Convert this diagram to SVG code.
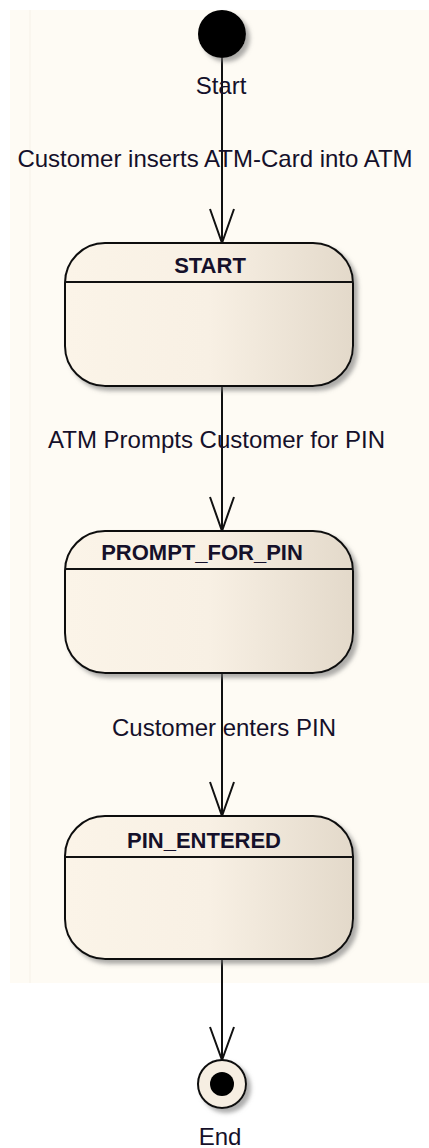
<svg xmlns="http://www.w3.org/2000/svg" width="429" height="1148" viewBox="0 0 429 1148">
<defs>
<style>
.lbl{font-family:"Liberation Sans",Arial,sans-serif;font-size:24px;fill:#15102a;text-anchor:middle}
.ttl{font-family:"Liberation Sans",Arial,sans-serif;font-size:22px;font-weight:bold;fill:#15102a;text-anchor:middle}
.st{fill:url(#g);stroke:#111;stroke-width:2}
.div{stroke:#111;stroke-width:2}
.edge{stroke:#111;stroke-width:2;fill:none}
</style>
<linearGradient id="g" x1="0" y1="0" x2="1" y2="0">
<stop offset="0" stop-color="#FBF4E8"/>
<stop offset="0.5" stop-color="#F8F0E4"/>
<stop offset="1" stop-color="#E3D9CA"/>
</linearGradient>
<filter id="sh" x="-10%" y="-10%" width="130%" height="130%">
<feDropShadow dx="4" dy="4" stdDeviation="2" flood-color="#777" flood-opacity="0.6"/>
</filter>
</defs>
<rect x="0" y="0" width="429" height="1148" fill="#fff"/>
<rect x="10" y="10" width="419" height="973" fill="#FEFBF4"/>
<line x1="30" y1="10" x2="30" y2="983" stroke="#F6F1E8" stroke-width="1"/>

<g id="connectors">
<line class="edge" x1="222" y1="58" x2="222" y2="243"/>
<polyline class="edge" points="210,209 222,243 234,209"/>
<line class="edge" x1="222" y1="386" x2="222" y2="531"/>
<polyline class="edge" points="210,497 222,531 234,497"/>
<line class="edge" x1="222" y1="673" x2="222" y2="816"/>
<polyline class="edge" points="210,782 222,816 234,782"/>
<line class="edge" x1="222" y1="959" x2="222" y2="1060"/>
<polyline class="edge" points="210,1027 222,1060 234,1027"/>
<text class="lbl" x="215" y="167">Customer inserts ATM-Card into ATM</text>
<text class="lbl" x="216.5" y="448">ATM Prompts Customer for PIN</text>
<text class="lbl" x="224" y="736">Customer enters PIN</text>
</g>

<g id="start">
<circle cx="222" cy="34" r="24" fill="#000" filter="url(#sh)"/>
<text class="lbl" x="221" y="94">Start</text>
</g>

<g id="state-start">
<rect class="st" x="65" y="243" width="288" height="143" rx="40" ry="40" filter="url(#sh)"/>
<line class="div" x1="65" y1="282" x2="353" y2="282"/>
<text class="ttl" x="210" y="273">START</text>
</g>

<g id="state-prompt">
<rect class="st" x="65" y="531" width="288" height="142" rx="40" ry="40" filter="url(#sh)"/>
<line class="div" x1="65" y1="569" x2="353" y2="569"/>
<text class="ttl" x="202" y="560">PROMPT_FOR_PIN</text>
</g>

<g id="state-pin">
<rect class="st" x="65" y="816" width="288" height="143" rx="40" ry="40" filter="url(#sh)"/>
<line class="div" x1="65" y1="857" x2="353" y2="857"/>
<text class="ttl" x="204" y="848">PIN_ENTERED</text>
</g>

<g id="end">
<circle cx="222" cy="1084" r="24" fill="#F6EEE2" stroke="#111" stroke-width="2" filter="url(#sh)"/>
<circle cx="222" cy="1084" r="12" fill="#000"/>
<text class="lbl" x="220" y="1145">End</text>
</g>
</svg>
